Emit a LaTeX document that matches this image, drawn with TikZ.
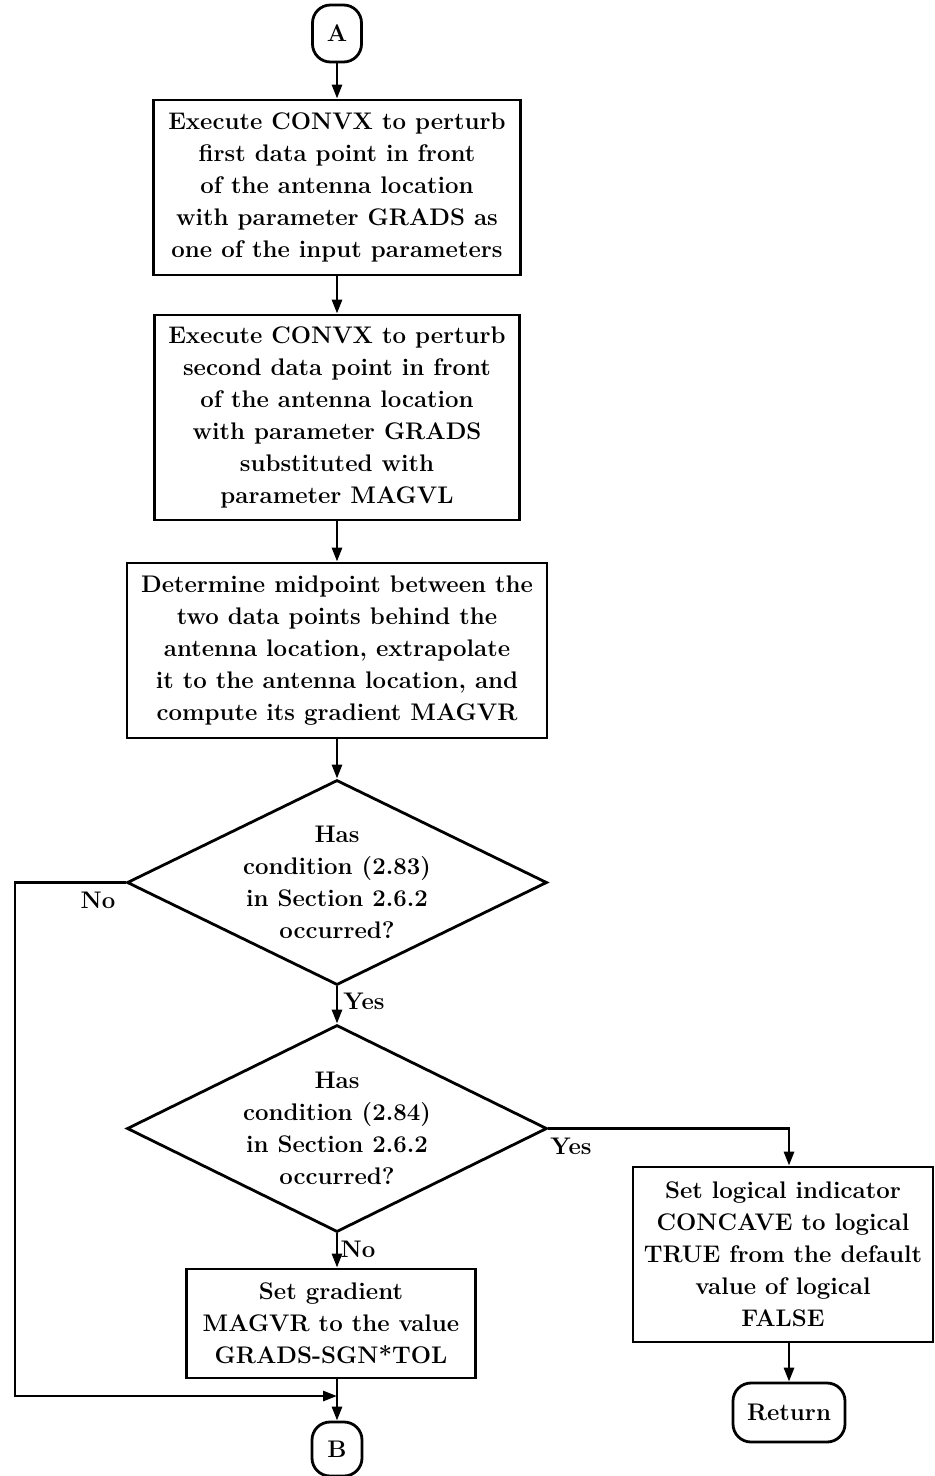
\documentclass[tikz,border=0pt]{standalone}
\usetikzlibrary{arrows.meta,shapes.geometric}
\begin{document}
\begin{tikzpicture}[x=0.5pt,y=-0.5pt,
  every node/.style={font=\fontsize{12}{16}\selectfont\bfseries},
  box/.style={draw, line width=1.4pt, align=center, inner sep=0pt},
  dia/.style={draw, diamond, line width=1.4pt, inner sep=0pt, aspect=2},
  term/.style={draw, line width=1.4pt, rounded corners=9pt, inner sep=0pt},
  arr/.style={line width=1.4pt, -{Triangle[length=7pt,width=5pt]}},
  lbl/.style={inner sep=1pt}]
\useasboundingbox (0,0) rectangle (934,1476);

\node[term, minimum width=24.5pt, minimum height=28.5pt] (A) at (337,33.5) {A};
\node[box, minimum width=183.5pt, minimum height=87.5pt] (b1) at (337,187.5)
  {Execute CONVX to perturb\\first data point in front\\of the antenna location\\with parameter GRADS as\\one of the input parameters};
\node[box, minimum width=182.5pt, minimum height=102.5pt] (b2) at (337,417.5)
  {Execute CONVX to perturb\\second data point in front\\of the antenna location\\with parameter GRADS\\substituted with\\parameter MAGVL};
\node[box, minimum width=210pt, minimum height=87.5pt] (b3) at (337,650.5)
  {Determine midpoint between the\\two data points behind the\\antenna location, extrapolate\\it to the antenna location, and\\compute its gradient MAGVR};
\node[dia, minimum width=210pt, minimum height=102.5pt,
  label={[align=center]center:Has\\condition (2.83)\\in Section 2.6.2\\occurred?}] (d1) at (337,882.5) {};
\node[dia, minimum width=210pt, minimum height=103.5pt,
  label={[align=center]center:Has\\condition (2.84)\\in Section 2.6.2\\occurred?}] (d2) at (337,1128.5) {};
\node[box, minimum width=144.5pt, minimum height=54.5pt] (b5) at (331,1323.5)
  {Set gradient\\MAGVR to the value\\GRADS-SGN*TOL};
\node[box, minimum width=150pt, minimum height=87.5pt] (b4) at (783,1254.5)
  {Set logical indicator\\CONCAVE to logical\\TRUE from the default\\value of logical\\FALSE};
\node[term, minimum width=56pt, minimum height=29.5pt] (ret) at (789,1412.5) {Return};
\node[term, minimum width=25pt, minimum height=27pt] (B) at (337,1449) {B};

\node[lbl] (no1) at (98,900) {No};
\node[lbl] (yes1) at (364,1001) {Yes};
\node[lbl] (yes2) at (571,1146) {Yes};
\node[lbl] (no2) at (358,1249) {No};

\coordinate (j) at (337,1396);

\draw[arr] (A) -- (b1);
\draw[arr] (b1) -- (b2);
\draw[arr] (b2) -- (b3);
\draw[arr] (b3) -- (d1);
\draw[arr] (d1) -- (d2);
\draw[arr] (d2.south) -- (d2.south |- b5.north);
\draw[arr] (b5.south -| B) -- (B);
\draw[arr] (d1.west) -- (15,882.5) |- (j);
\draw[arr] (d2.east) -| (ret |- b4.north);
\draw[arr] (b4.south -| ret) -- (ret);
\end{tikzpicture}
\end{document}
